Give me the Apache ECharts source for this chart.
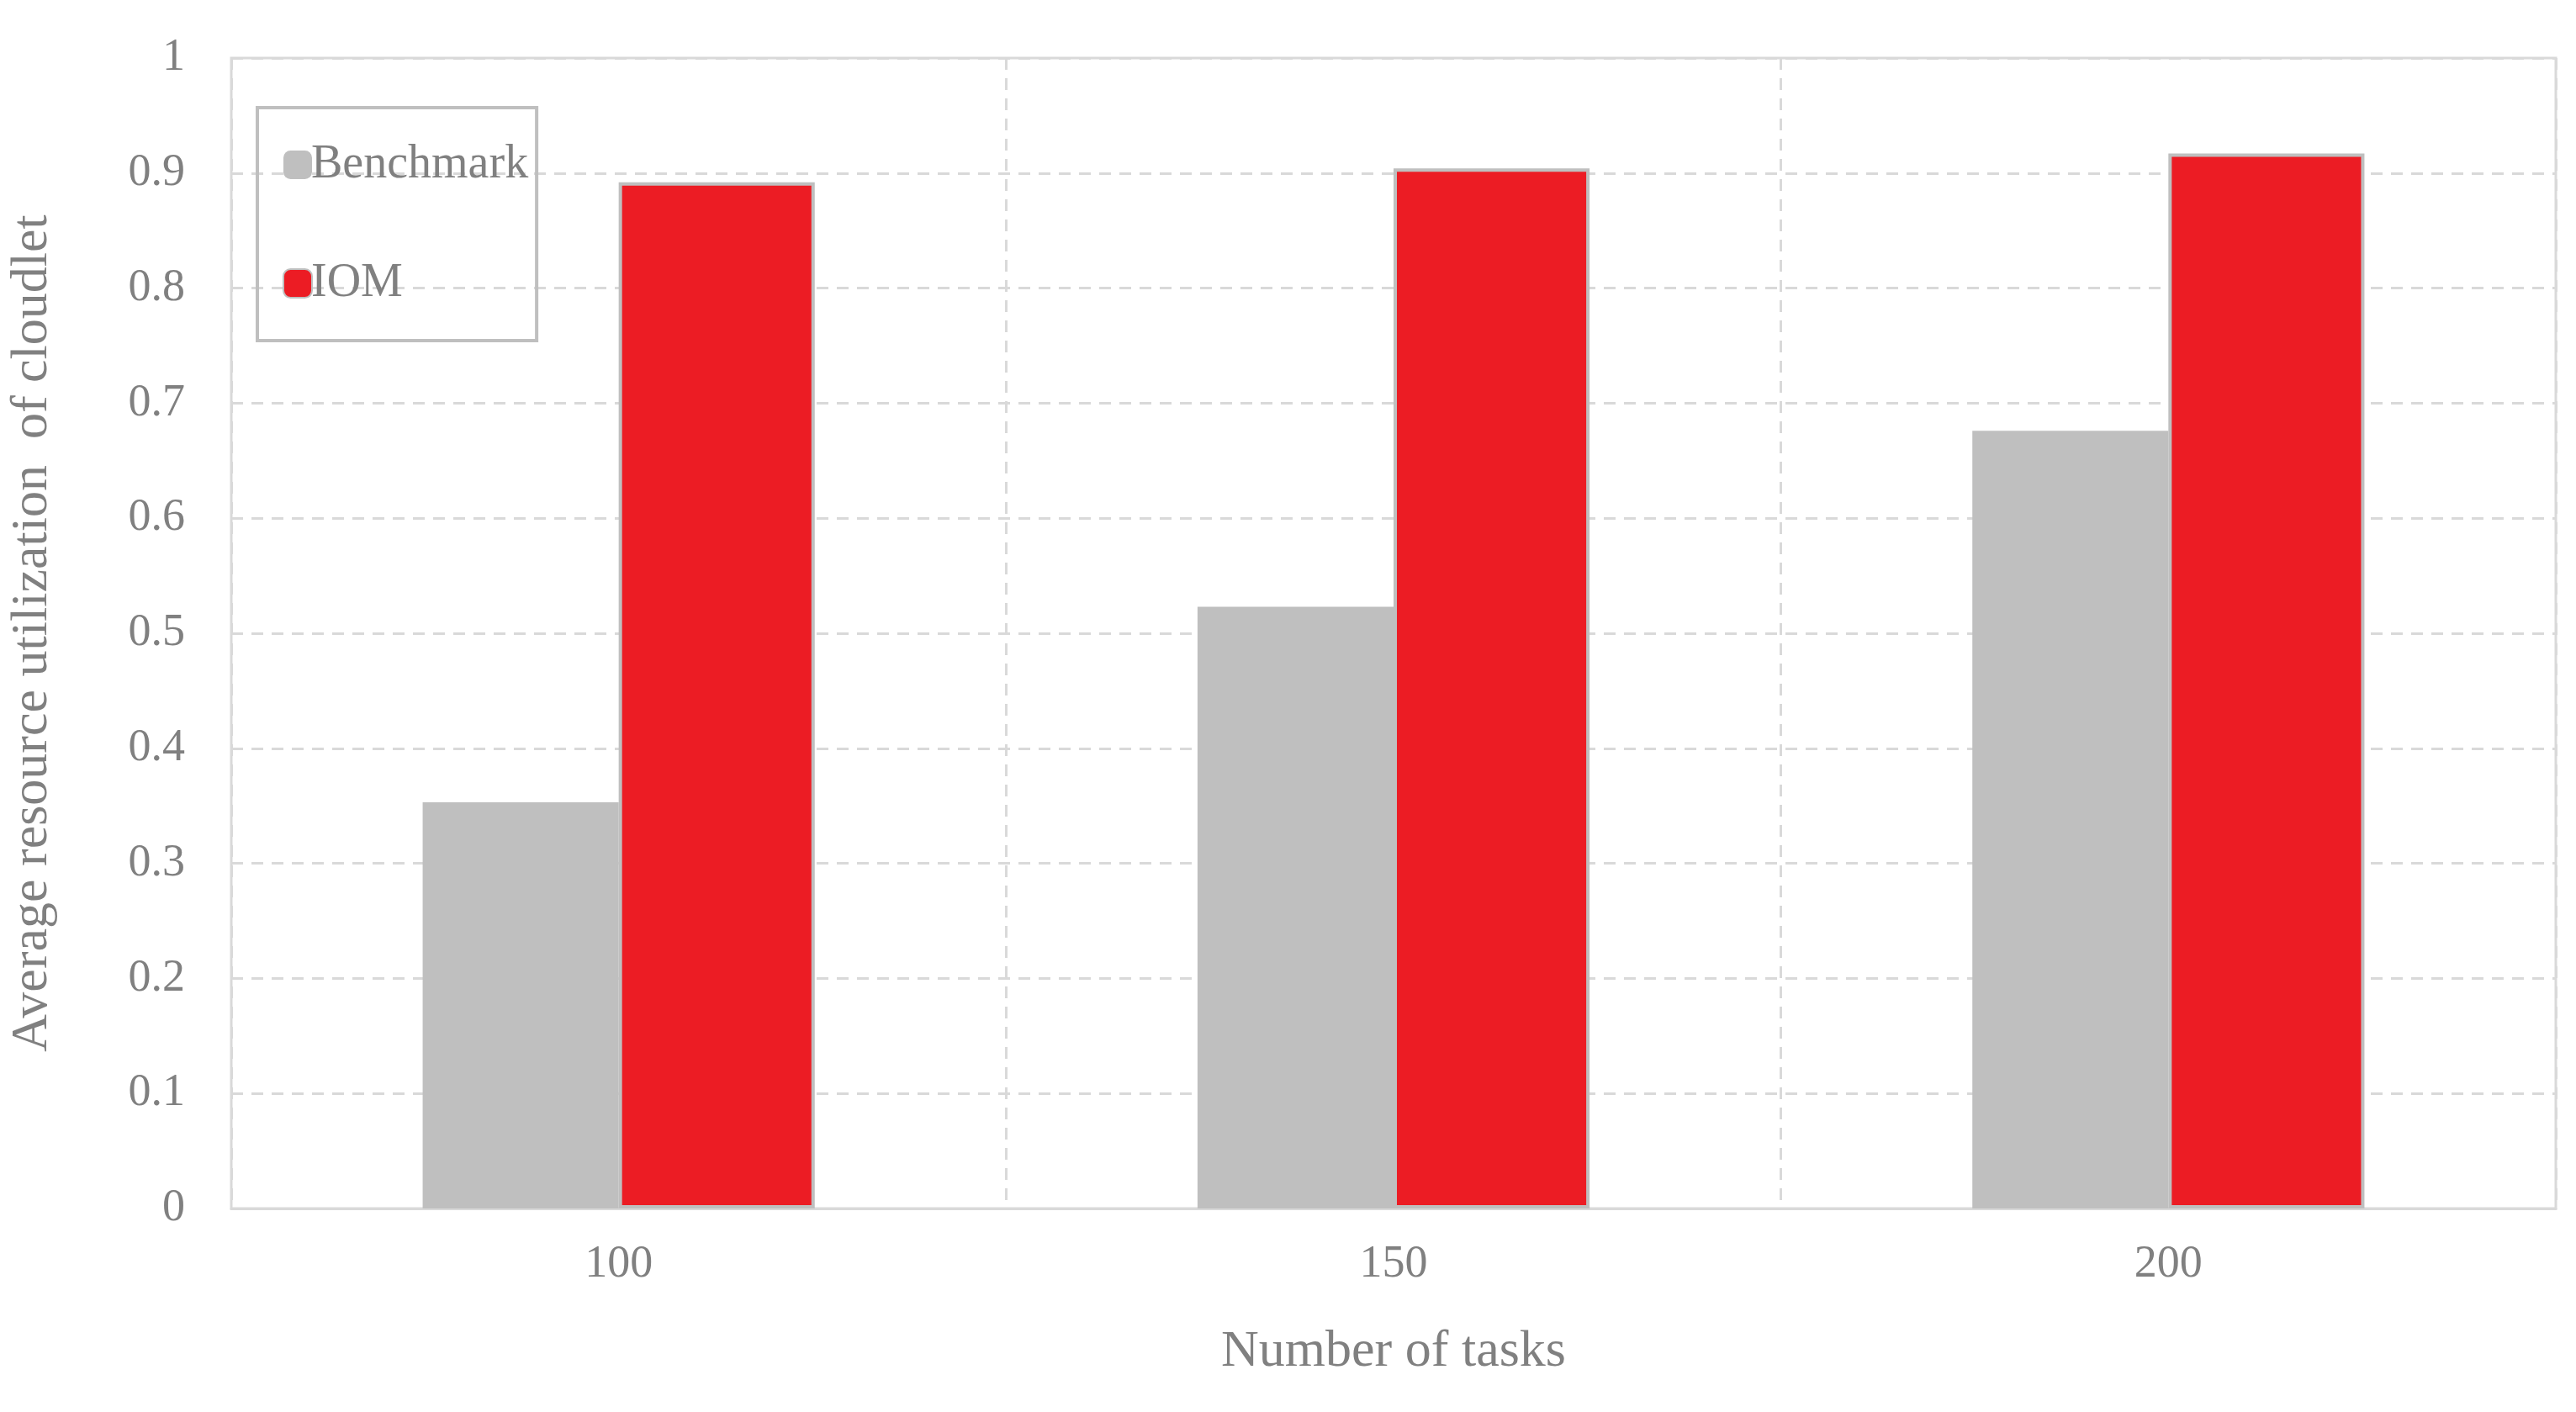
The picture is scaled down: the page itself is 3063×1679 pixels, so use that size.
<!DOCTYPE html><html><head><meta charset="utf-8">
<script src="https://cdn.jsdelivr.net/npm/echarts@6/dist/echarts.min.js"></script>
<style>html,body{margin:0;padding:0;background:#fff}#c{width:3063px;height:1679px}</style></head><body><div id="c"></div>
<script>
const categories = ['100','150','200'];
const benchmark = [0.353, 0.523, 0.676];
const iom = [0.892, 0.904, 0.917];
const yTicks = [0,0.1,0.2,0.3,0.4,0.5,0.6,0.7,0.8,0.9,1];
const font = 'Liberation Serif';
const grey = '#808080';
const ch = echarts.init(document.getElementById('c'));
ch.setOption({
  animation:false,
  grid:{left:267,right:24,top:69,bottom:242,show:true,borderColor:'#d9d9d9',borderWidth:3},
  legend:{orient:'vertical',left:306,top:128,width:400,borderColor:'#bfbfbf',borderWidth:4,
    padding:[40,10,40,30],itemGap:85,itemWidth:34,itemHeight:34,
    textStyle:{fontFamily:font,fontSize:56,color:grey,padding:[0,0,0,-6]},
    data:['Benchmark','IOM']},
  xAxis:{type:'category',data:categories,name:'Number of tasks',nameLocation:'middle',nameGap:140,
    nameTextStyle:{fontFamily:font,fontSize:62,color:grey},
    axisLine:{lineStyle:{color:'#d9d9d9',width:3}},axisTick:{show:false},
    axisLabel:{fontFamily:font,fontSize:54,color:grey,margin:40},
    splitLine:{show:true,lineStyle:{color:'#d9d9d9',width:3,type:[14,10]}}},
  yAxis:{type:'value',min:0,max:1,interval:0.1,name:'Average resource utilization  of cloudlet',
    nameLocation:'middle',nameGap:205,nameTextStyle:{fontFamily:font,fontSize:62,color:grey},
    axisLine:{show:false},axisTick:{show:false},
    axisLabel:{fontFamily:font,fontSize:54,color:grey,margin:55,formatter:v=>String(+v.toFixed(1))},
    splitLine:{lineStyle:{color:'#d9d9d9',width:3,type:[14,10]}}},
  series:[
    {name:'Benchmark',type:'bar',data:benchmark,barWidth:'25.3%',barGap:'0%',itemStyle:{color:'#bfbfbf'}},
    {name:'IOM',type:'bar',data:iom,barWidth:'25.3%',itemStyle:{color:'#ec1c24',borderColor:'#bfbfbf',borderWidth:4}}
  ]
});
</script></body></html>
